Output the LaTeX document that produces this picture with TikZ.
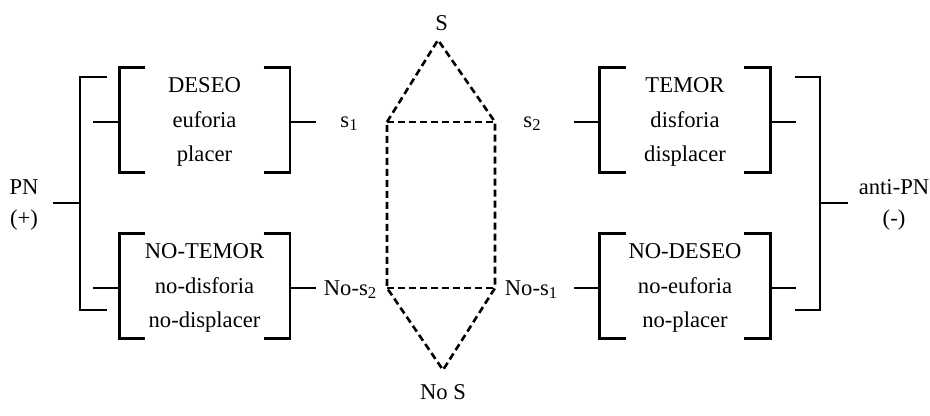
\documentclass[tikz,border=0pt]{standalone}
\usepackage{fontspec}
\setmainfont{Liberation Serif}
\usetikzlibrary{positioning,calc}

\newcommand{\idx}[1]{\raisebox{-0.3ex}{\fontsize{8.3}{8.3}\selectfont #1}}

\begin{document}
\begin{tikzpicture}[
    x=0.5pt, y=-0.5pt,
    line width=1.3pt,
    font=\fontsize{11.3}{17.3}\selectfont,
    sema/.style={minimum width=84pt, minimum height=51pt, inner sep=0pt, align=center},
    side/.style={align=center, inner sep=0pt, font=\fontsize{11.3}{15.8}\selectfont},
    pole/.style={inner sep=0pt},
    square/.style={dash pattern=on 3.5pt off 2pt, line width=1.3pt}
]
\useasboundingbox (0,0) rectangle (930,416);

% semes in brackets
\node[sema] (deseo) at (204.5,122) {DESEO\\euforia\\placer};
\node[sema] (notemor) at (204.5,288) {NO-TEMOR\\no-disforia\\no-displacer};
\node[sema] (temor) at (685,122) {TEMOR\\disforia\\displacer};
\node[sema] (nodeseo) at (685,288) {NO-DESEO\\no-euforia\\no-placer};

\foreach \b in {deseo, notemor, temor, nodeseo} {
  \draw ([xshift=13pt,yshift=1pt]\b.north west) -| ([yshift=1pt]\b.south west) -- ++(26,0);
  \draw ([xshift=-13pt,yshift=1pt]\b.north east) -| ([yshift=1pt]\b.south east) -- ++(-26,0);
  \draw (\b.west) -- ++(-26,0);
  \draw (\b.east) -- ++(26,0);
}

% PN / anti-PN
\node[side] (pn) at (24,205) {PN\\(+)};
\node[side] (antipn) at (894,205) {anti-PN\\(-)};
\coordinate (pnjoin) at (80,203);
\coordinate (antijoin) at (820,203);
\draw (107,77) -| (80,310) -- (107,310);
\draw (795,77) -| (820,310) -- (795,310);
\draw (pnjoin) -- ++(-27,0);
\draw (antijoin) -- ++(28,0);

% semiotic square
\coordinate (top) at (438,40);
\coordinate (s1c) at (387,122);
\coordinate (s2c) at (495,122);
\coordinate (ns2c) at (387,288);
\coordinate (ns1c) at (495,288);
\coordinate (bot) at (443,370);
\draw[square] (s1c) -- (top) -- (s2c) -- (ns1c) -- (bot) -- (ns2c) -- cycle;
\draw[square] (s1c) -- (s2c) (ns2c) -- (ns1c);

\node[pole] (S) at (441.7,23) {S};
\node[pole] (noS) at (443,392) {No S};
\node[pole] (s1) at (349,124) {s\idx{1}};
\node[pole] (s2) at (532,124) {s\idx{2}};
\node[pole] (nos2) at (350,290) {No-s\idx{2}};
\node[pole] (nos1) at (531,290) {No-s\idx{1}};
\end{tikzpicture}
\end{document}
